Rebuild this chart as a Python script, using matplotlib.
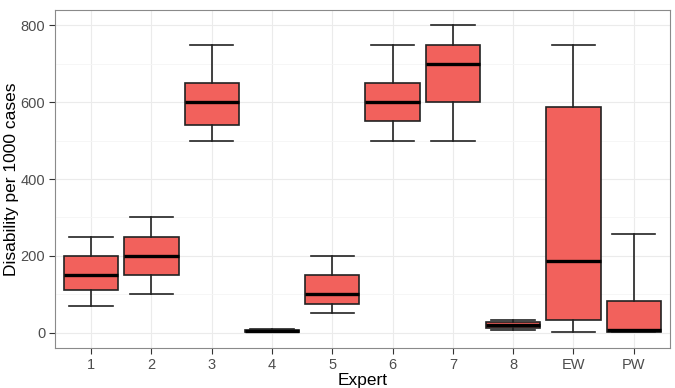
import matplotlib

matplotlib.use("Agg")
import matplotlib.pyplot as plt

# summary stats
experts = ["1", "2", "3", "4", "5", "6", "7", "8", "EW", "PW"]
whisker_lo = [70, 100, 500, 1, 50, 500, 500, 6, 3, 3]
q1 = [110, 150, 540, 3, 75, 550, 600, 13, 32, 3]
median = [150, 200, 600, 5, 100, 600, 700, 20, 187, 6]
q3 = [200, 250, 650, 7, 150, 650, 750, 27, 587, 82]
whisker_hi = [250, 300, 750, 9, 200, 750, 800, 34, 750, 258]

y_ticks = [0, 200, 400, 600, 800]

plt.rcParams["font.family"] = ["Liberation Sans", "DejaVu Sans"]

fig = plt.figure(figsize=(6.75, 3.88), dpi=100)
ax = fig.add_axes([0.0815, 0.103, 0.911, 0.871])

stats = [
    {"whislo": lo, "q1": a, "med": m, "q3": b, "whishi": hi, "label": name}
    for name, lo, a, m, b, hi in zip(experts, whisker_lo, q1, median, q3, whisker_hi)
]
positions = list(range(1, len(experts) + 1))

line_col = "#222222"
ax.bxp(
    stats,
    positions=positions,
    widths=0.9,
    showfliers=False,
    patch_artist=True,
    boxprops=dict(facecolor="#F2615C", edgecolor=line_col, linewidth=1.2),
    medianprops=dict(color="black", linewidth=2.4, solid_capstyle="butt"),
    whiskerprops=dict(color=line_col, linewidth=1.2),
    capprops=dict(color=line_col, linewidth=1.2),
    capwidths=0.72,
    zorder=3,
)

ax.set_xlim(0.4, 10.6)
ax.set_ylim(-40, 840)
ax.set_xticks(positions)
ax.set_xticklabels(experts)
ax.set_yticks(y_ticks)
ax.set_yticks([100, 300, 500, 700], minor=True)

ax.grid(True, which="major", color="#EBEBEB", linewidth=0.8, zorder=0)
ax.grid(True, which="minor", axis="y", color="#F5F5F5", linewidth=0.6, zorder=0)
ax.set_axisbelow(True)

for spine in ax.spines.values():
    spine.set_color("#8A8A8A")
    spine.set_linewidth(0.8)

ax.tick_params(axis="both", which="major", colors="#333333", labelcolor="#4D4D4D",
               labelsize=10.5, length=4, width=0.8, pad=3)
ax.tick_params(axis="y", which="minor", length=0)

ax.set_xlabel("Expert", fontsize=12.5, color="black", labelpad=1)
ax.set_ylabel("Disability per 1000 cases", fontsize=12.5, color="black", labelpad=1)

fig.savefig("out.png", dpi=100)
